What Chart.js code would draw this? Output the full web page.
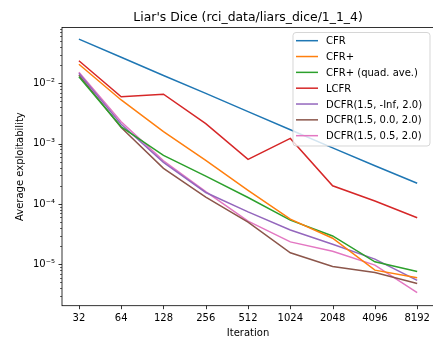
<!DOCTYPE html>
<html>
<head>
<meta charset="utf-8">
<script src="https://cdn.jsdelivr.net/npm/chart.js@4/dist/chart.umd.min.js"></script>
<style>
  html, body { margin: 0; padding: 0; background: #fff; overflow: hidden; }
  #wrap { width: 433px; height: 340px; overflow: hidden; position: relative; }
  canvas { position: absolute; left: 0; top: 0; }
</style>
</head>
<body>
<div id="wrap"><canvas id="c" width="437" height="340"></canvas></div>
<script>
// Iteration counts (x axis, base-2 log)
const iterations = [32, 64, 128, 256, 512, 1024, 2048, 4096, 8192];

// Average exploitability per algorithm
const cfr      = [0.054, 0.027, 0.0135, 0.0068, 0.0034, 0.0017, 0.00085, 0.00043, 0.00022];
const cfrPlus  = [0.0207, 0.0053, 0.00158, 0.00053, 0.000168, 5.6e-5, 2.7e-5, 8.0e-6, 6.0e-6];
const cfrQuad  = [0.0129, 0.0019, 0.00064, 0.00029, 0.000128, 5.4e-5, 2.95e-5, 1.1e-5, 7.6e-6];
const lcfr     = [0.0237, 0.0060, 0.0066, 0.00215, 0.00055, 0.00122, 0.0002, 0.000112, 5.9e-5];
const dcfrInf  = [0.0147, 0.0021, 0.00049, 0.000155, 7.4e-5, 3.7e-5, 2.15e-5, 1.22e-5, 5.4e-6];
const dcfr00   = [0.0137, 0.00185, 0.00039, 0.00013, 5.0e-5, 1.55e-5, 9.2e-6, 7.3e-6, 4.8e-6];
const dcfr05   = [0.0152, 0.0023, 0.00052, 0.00016, 5.2e-5, 2.35e-5, 1.65e-5, 9.7e-6, 3.4e-6];

const seriesLabels = ['CFR', 'CFR+', 'CFR+ (quad. ave.)', 'LCFR',
  'DCFR(1.5, -Inf, 2.0)', 'DCFR(1.5, 0.0, 2.0)', 'DCFR(1.5, 0.5, 2.0)'];
const seriesValues = [cfr, cfrPlus, cfrQuad, lcfr, dcfrInf, dcfr00, dcfr05];
const seriesColors = ['#1f77b4', '#ff7f0e', '#2ca02c', '#d62728', '#9467bd', '#8c564b', '#e377c2'];

// Y tick labels (powers of ten)
const yMajorValues = [1e-2, 1e-3, 1e-4, 1e-5];
const yMajorLabels = ['10\u207B\u00B2', '10\u207B\u00B3', '10\u207B\u2074', '10\u207B\u2075'];

const titleText = "Liar's Dice (rci_data/liars_dice/1_1_4)";
const xTitle = 'Iteration';
const yTitle = 'Average exploitability';

const FONT = "'DejaVu Sans', sans-serif";
const Y_MIN = 2.058e-6, Y_MAX = 0.0842;

const datasets = seriesLabels.map((label, i) => ({
  label,
  data: iterations.map((it, j) => ({ x: Math.log2(it), y: seriesValues[i][j] })),
  borderColor: seriesColors[i],
  backgroundColor: seriesColors[i],
  borderWidth: 1.5,
  pointRadius: 0,
  tension: 0,
  fill: false
}));

// All y tick positions: 1..9 x 10^k within the range
function allLogTicks() {
  const out = [];
  for (let e = -6; e <= -1; e++) {
    for (let m = 1; m <= 9; m++) {
      const v = m * Math.pow(10, e);
      if (v >= Y_MIN && v <= Y_MAX) out.push({ v, major: m === 1 });
    }
  }
  return out;
}

const decor = {
  id: 'decor',
  afterDraw(chart) {
    const { ctx, chartArea: a, scales: { x, y } } = chart;
    ctx.save();
    // frame
    ctx.strokeStyle = '#000';
    ctx.lineWidth = 0.8;
    ctx.strokeRect(a.left, a.top, a.right - a.left, a.bottom - a.top);
    // y tick marks
    for (const t of allLogTicks()) {
      const py = Math.round(y.getPixelForValue(t.v)) + 0.5;
      const len = t.major ? 3.5 : 2;
      ctx.lineWidth = t.major ? 0.8 : 0.6;
      ctx.beginPath();
      ctx.moveTo(a.left, py);
      ctx.lineTo(a.left - len, py);
      ctx.stroke();
    }
    // x tick marks
    ctx.lineWidth = 0.8;
    for (const it of iterations) {
      const px = Math.round(x.getPixelForValue(Math.log2(it))) + 0.5;
      ctx.beginPath();
      ctx.moveTo(px, a.bottom);
      ctx.lineTo(px, a.bottom + 3.5);
      ctx.stroke();
    }
    // title
    ctx.fillStyle = '#000';
    ctx.font = '12.4px ' + FONT;
    ctx.textAlign = 'center';
    ctx.textBaseline = 'alphabetic';
    ctx.fillText(titleText, (a.left + a.right) / 2, 20.5);
    // axis titles
    ctx.font = '10px ' + FONT;
    ctx.fillText(xTitle, (a.left + a.right) / 2, 336);
    ctx.save();
    ctx.translate(22.5, (a.top + a.bottom) / 2);
    ctx.rotate(-Math.PI / 2);
    ctx.fillText(yTitle, 0, 0);
    ctx.restore();
    // legend
    const lx = 293, ly = 32.5, lw = 137, lh = 113.5, r = 3;
    ctx.beginPath();
    ctx.moveTo(lx + r, ly);
    ctx.lineTo(lx + lw - r, ly);
    ctx.quadraticCurveTo(lx + lw, ly, lx + lw, ly + r);
    ctx.lineTo(lx + lw, ly + lh - r);
    ctx.quadraticCurveTo(lx + lw, ly + lh, lx + lw - r, ly + lh);
    ctx.lineTo(lx + r, ly + lh);
    ctx.quadraticCurveTo(lx, ly + lh, lx, ly + lh - r);
    ctx.lineTo(lx, ly + r);
    ctx.quadraticCurveTo(lx, ly, lx + r, ly);
    ctx.closePath();
    ctx.fillStyle = 'rgba(255,255,255,0.8)';
    ctx.fill();
    ctx.strokeStyle = 'rgba(204,204,204,0.8)';
    ctx.lineWidth = 1;
    ctx.stroke();
    ctx.textAlign = 'left';
    chart.data.datasets.forEach((ds, i) => {
      const ry = 40.7 + i * 15.83;
      ctx.strokeStyle = ds.borderColor;
      ctx.lineWidth = 1.5;
      ctx.beginPath();
      ctx.moveTo(296, ry);
      ctx.lineTo(318, ry);
      ctx.stroke();
      ctx.fillStyle = '#000';
      ctx.fillText(ds.label, 326, ry + 3.6);
    });
    ctx.restore();
  }
};

new Chart(document.getElementById('c'), {
  type: 'line',
  data: { datasets },
  options: {
    responsive: false,
    animation: false,
    devicePixelRatio: 1,
    layout: { padding: { top: 27.5, right: 2, bottom: 0, left: 0 } },
    plugins: { legend: { display: false }, title: { display: false }, tooltip: { enabled: false } },
    scales: {
      x: {
        type: 'linear',
        min: Math.log2(iterations[0]) - 0.4,
        max: Math.log2(iterations[iterations.length - 1]) + 0.4,
        afterBuildTicks: (s) => { s.ticks = iterations.map(it => ({ value: Math.log2(it) })); },
        afterFit: (s) => { s.height = 34.3; },
        grid: { display: true, drawOnChartArea: false, drawTicks: false },
        border: { display: false },
        ticks: {
          autoSkip: false, maxRotation: 0, padding: 7,
          color: '#000', font: { family: FONT, size: 10 },
          callback: (v) => String(Math.round(Math.pow(2, v)))
        }
      },
      y: {
        type: 'logarithmic',
        min: Y_MIN,
        max: Y_MAX,
        afterBuildTicks: (s) => { s.ticks = yMajorValues.map(v => ({ value: v })); },
        afterFit: (s) => { s.width = 62; },
        grid: { display: true, drawOnChartArea: false, drawTicks: false },
        border: { display: false },
        ticks: {
          autoSkip: false, padding: 7,
          color: '#000', font: { family: FONT, size: 10 },
          callback: (v) => {
            const k = yMajorValues.findIndex(m => Math.abs(m - v) / m < 1e-6);
            return k >= 0 ? yMajorLabels[k] : '';
          }
        }
      }
    }
  },
  plugins: [decor]
});
</script>
</body>
</html>
